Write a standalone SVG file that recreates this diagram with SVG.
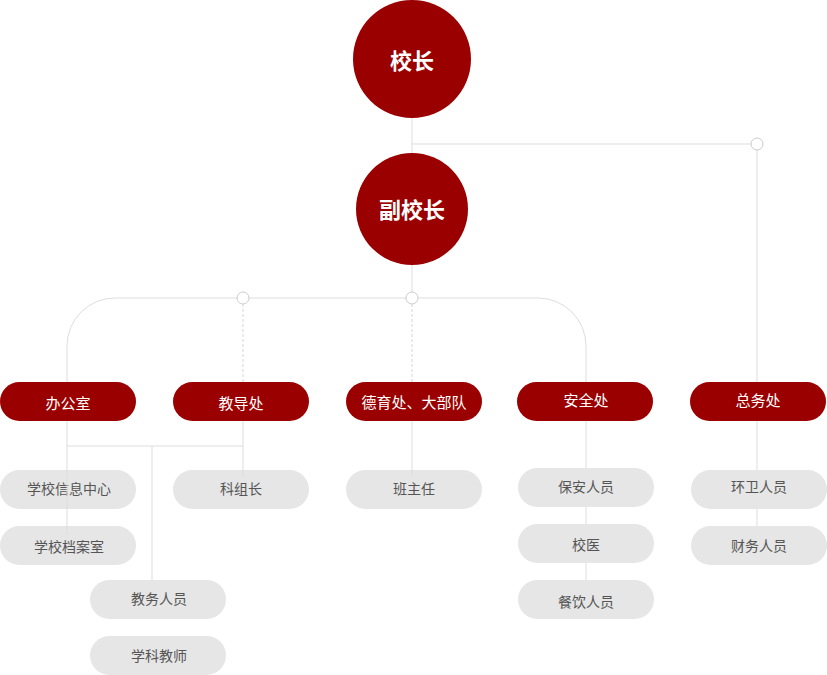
<svg xmlns="http://www.w3.org/2000/svg" width="827" height="675" viewBox="0 0 827 675">
<style>
.ln{fill:none;stroke:#dddddd;stroke-width:1}
.dash{fill:none;stroke:#d6d6d6;stroke-width:1;stroke-dasharray:3 2}
.dot{fill:#ffffff;stroke:#cccccc;stroke-width:1}
.red{fill:#9b0000}
.gray{fill:#e6e6e6}
.t{font-family:"Noto Sans CJK SC","Noto Sans",sans-serif;text-anchor:middle;dominant-baseline:central}
.big{font-size:22px;font-weight:bold;fill:#ffffff}
.wt{font-size:15px;fill:#ffffff}
.gt{font-size:14px;fill:#555555}
</style>
<rect width="827" height="675" fill="#ffffff"/>
<g id="connectors">
<path class="ln" d="M412,118 V153"/>
<path class="ln" d="M412,144 H751"/>
<path class="ln" d="M757,150 V382"/>
<path class="ln" d="M412,265 V292"/>
<path class="ln" d="M67,382 V346 A48,48 0 0 1 115,298 H237 M249,298 H406 M418,298 H538 A48,48 0 0 1 586,346 V382"/>
<path class="dash" d="M243,304 V382"/>
<path class="dash" d="M412,304 V382"/>
<path class="ln" d="M586,421 V468 M586,507 V524 M586,563 V580"/>
<path class="ln" d="M757,421 V470 M757,509 V526"/>
<circle class="dot" cx="757" cy="144" r="6"/>
<circle class="dot" cx="412" cy="298" r="6"/>
<circle class="dot" cx="243" cy="298" r="6"/>
</g>
<g id="n-xiaozhang"><circle class="red" cx="412" cy="59" r="59"/><text class="t big" x="412" y="59">校长</text></g>
<g id="n-fuxiaozhang"><circle class="red" cx="412" cy="209" r="56"/><text class="t big" x="412" y="208">副校长</text></g>
<g id="n-bangongshi"><rect class="red" x="0" y="382" width="136" height="39" rx="19.5"/><text class="t wt" x="68" y="402">办公室</text></g>
<g id="n-jiaodaochu"><rect class="red" x="173" y="382" width="136" height="39" rx="19.5"/><text class="t wt" x="241" y="402">教导处</text></g>
<g id="n-deyuchu"><rect class="red" x="346" y="382" width="136" height="39" rx="19.5"/><text class="t wt" x="414" y="401">德育处、大部队</text></g>
<g id="n-anquanchu"><rect class="red" x="517" y="382" width="136" height="39" rx="19.5"/><text class="t wt" x="586" y="399">安全处</text></g>
<g id="n-zongwuchu"><rect class="red" x="690" y="382" width="136" height="39" rx="19.5"/><text class="t wt" x="758" y="399">总务处</text></g>
<g id="n-xinxi"><rect class="gray" x="0" y="470" width="136" height="39" rx="19.5"/><text class="t gt" x="69" y="488">学校信息中心</text></g>
<g id="n-dangan"><rect class="gray" x="0" y="526" width="136" height="39" rx="19.5"/><text class="t gt" x="69" y="546">学校档案室</text></g>
<g id="n-jiaowu"><rect class="gray" x="90" y="580" width="136" height="39" rx="19.5"/><text class="t gt" x="159" y="598">教务人员</text></g>
<g id="n-xueke"><rect class="gray" x="90" y="636" width="136" height="39" rx="19.5"/><text class="t gt" x="159" y="655">学科教师</text></g>
<g id="n-kezu"><rect class="gray" x="173" y="470" width="136" height="39" rx="19.5"/><text class="t gt" x="241" y="488">科组长</text></g>
<g id="n-banzhuren"><rect class="gray" x="346" y="470" width="136" height="39" rx="19.5"/><text class="t gt" x="414" y="488">班主任</text></g>
<g id="n-baoan"><rect class="gray" x="518" y="468" width="136" height="39" rx="19.5"/><text class="t gt" x="586" y="486">保安人员</text></g>
<g id="n-xiaoyi"><rect class="gray" x="518" y="524" width="136" height="39" rx="19.5"/><text class="t gt" x="586" y="544">校医</text></g>
<g id="n-canyin"><rect class="gray" x="518" y="580" width="136" height="39" rx="19.5"/><text class="t gt" x="586" y="601">餐饮人员</text></g>
<g id="n-huanwei"><rect class="gray" x="691" y="470" width="136" height="39" rx="19.5"/><text class="t gt" x="759" y="486">环卫人员</text></g>
<g id="n-caiwu"><rect class="gray" x="691" y="526" width="136" height="39" rx="19.5"/><text class="t gt" x="759" y="545">财务人员</text></g>
<g id="connectors-over">
<path class="ln" d="M67,421 V535"/>
<path class="ln" d="M67,446 H243"/>
<path class="ln" d="M243,421 V477"/>
<path class="ln" d="M152,446 V580"/>
<path class="ln" d="M412,421 V477"/>
</g>
</svg>
